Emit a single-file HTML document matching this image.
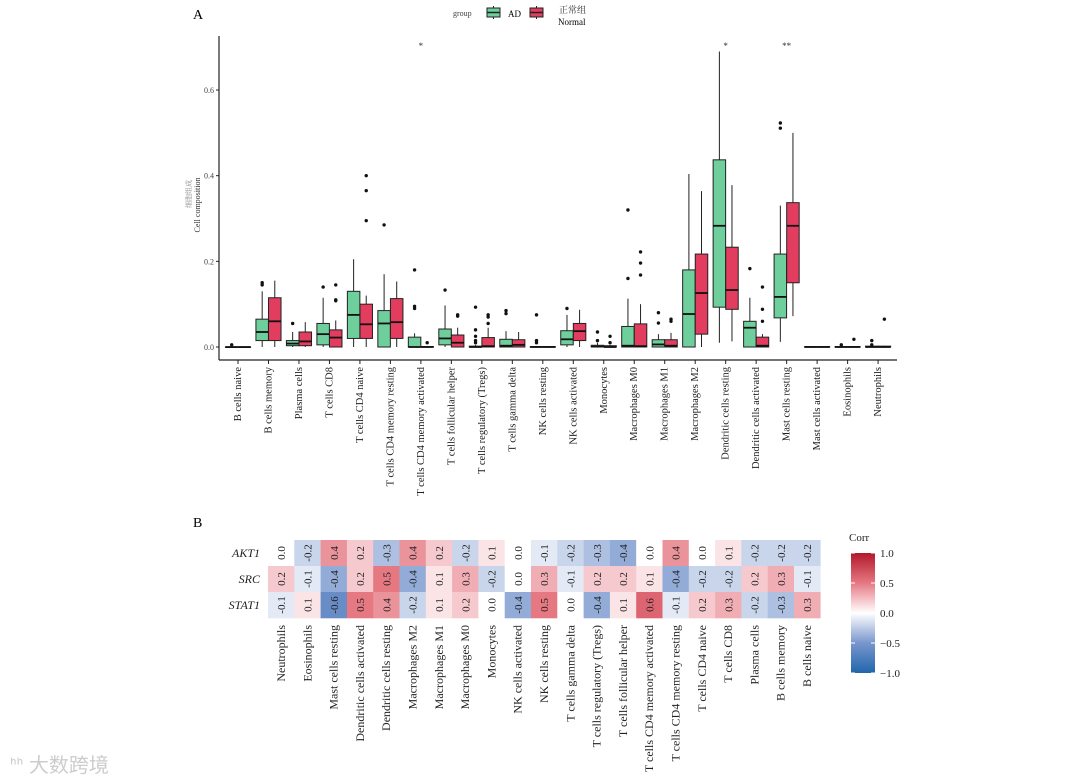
<!DOCTYPE html>
<html><head><meta charset="utf-8"><style>
html,body{margin:0;padding:0;background:#fff;width:1080px;height:782px;overflow:hidden}
svg{display:block;font-family:"Liberation Serif","Noto Serif CJK SC",serif}
</style></head><body>
<svg id="fig" width="1080" height="782" viewBox="0 0 1080 782">
<text x="193" y="19" font-size="14">A</text>
<text x="193" y="527" font-size="14">B</text>
<g>
<text x="453" y="16" font-size="8" fill="#444">group</text>
<g><line x1="493.5" y1="6" x2="493.5" y2="19" stroke="#222"/><rect x="487" y="8" width="13" height="9" fill="#6fcf9c" stroke="#222"/><line x1="487" y1="12.5" x2="500" y2="12.5" stroke="#222" stroke-width="1.5"/><text x="508" y="17" font-size="9">AD</text></g>
<g><line x1="536.5" y1="6" x2="536.5" y2="19" stroke="#222"/><rect x="530" y="8" width="13" height="9" fill="#e23d5f" stroke="#222"/><line x1="530" y1="12.5" x2="543" y2="12.5" stroke="#222" stroke-width="1.5"/><text x="559" y="13" font-size="9" fill="#333">正常组</text><text x="558" y="25" font-size="9">Normal</text></g>
</g>
<g id="box"></g>
<g id="heat"></g>
<text x="10" y="772" font-size="20" fill="#ccc" font-family="Liberation Sans, Noto Sans CJK SC, sans-serif">ᑋᑋ 大数跨境</text>
</svg>
<script>
const NS="http://www.w3.org/2000/svg";
function mk(p,t,a){const e=document.createElementNS(NS,t);for(const k in a)e.setAttribute(k,a[k]);p.appendChild(e);return e;}
const categories=["B cells naive","B cells memory","Plasma cells","T cells CD8","T cells CD4 naive","T cells CD4 memory resting","T cells CD4 memory activated","T cells follicular helper","T cells regulatory (Tregs)","T cells gamma delta","NK cells resting","NK cells activated","Monocytes","Macrophages M0","Macrophages M1","Macrophages M2","Dendritic cells resting","Dendritic cells activated","Mast cells resting","Mast cells activated","Eosinophils","Neutrophils"];
// [min,q1,median,q3,max]
const adStats=[[0,0,0,0,0],[0,0.015,0.035,0.065,0.13],[0,0.003,0.008,0.015,0.035],[0,0.005,0.03,0.055,0.115],[0,0.02,0.075,0.13,0.205],[0,0,0.055,0.085,0.17],[0,0,0,0.023,0.032],[0,0.005,0.02,0.042,0.097],[0,0,0,0.002,0.005],[0,0,0.003,0.018,0.037],[0,0,0,0.001,0.002],[0,0.005,0.018,0.038,0.075],[0,0,0.001,0.004,0.01],[0,0,0.003,0.048,0.113],[0,0,0.006,0.017,0.03],[0,0,0.077,0.18,0.404],[0.01,0.093,0.283,0.437,0.69],[0,0,0.045,0.06,0.115],[0.012,0.068,0.117,0.217,0.33],[0,0,0,0.001,0.001],[0,0,0,0.001,0.002],[0,0,0,0.002,0.003]];
const normalStats=[[0,0,0,0,0],[0,0.015,0.06,0.115,0.155],[0,0.003,0.013,0.035,0.058],[0,0,0.022,0.04,0.062],[0,0.02,0.053,0.1,0.12],[0,0.02,0.058,0.113,0.153],[0,0,0,0.001,0.002],[0,0,0.01,0.028,0.045],[0,0,0.002,0.022,0.045],[0,0,0.005,0.017,0.035],[0,0,0,0.001,0.001],[0,0.015,0.037,0.055,0.087],[0,0,0,0.003,0.005],[0,0,0.002,0.054,0.1],[0,0,0.003,0.017,0.033],[0,0.03,0.126,0.217,0.364],[0.013,0.088,0.133,0.233,0.378],[0,0,0.003,0.023,0.03],[0.072,0.15,0.283,0.337,0.5],[0,0,0,0.001,0.001],[0,0,0,0.001,0.002],[0,0,0,0.002,0.003]];
const adOutliers=[[0.005],[0.15,0.145],[0.055],[0.14],[],[0.285],[0.18,0.095,0.09],[0.133],[0.093,0.04,0.025,0.015,0.01],[0.085,0.078],[0.075,0.015,0.01],[0.09],[0.035,0.015],[0.32,0.16],[0.08,0.056],[],[],[0.183],[0.523,0.511],[],[0.005],[0.015,0.005]];
const normalOutliers=[[],[],[],[0.145,0.11,0.108],[0.4,0.365,0.295],[],[0.01],[0.075,0.072],[0.075,0.07,0.055],[],[],[],[0.025,0.01],[0.222,0.196,0.168],[0.065,0.06],[],[],[0.14,0.088,0.06],[],[],[0.018],[0.065]];
const sigLabels=["","","","","","","*","","","","","","","","","","*","","**","","",""];
const yTicks=[0,0.2,0.4,0.6];

const box=document.getElementById('box');
const y=v=>347-v*428.3;
const x=i=>238+i*30.48;
let e;
e=mk(box,'line',{x1:219,y1:36,x2:219,y2:360,stroke:'#222','stroke-width':1.2});

e=mk(box,'line',{x1:219,y1:360,x2:897,y2:360,stroke:'#222','stroke-width':1.2});

yTicks.forEach(t=>{
 mk(box,'line',{x1:216,y1:y(t),x2:219,y2:y(t),stroke:'#222'});
 e=mk(box,'text',{x:214,y:y(t)+3,'font-size':8,'text-anchor':'end',fill:'#444'});e.textContent=t.toFixed(1);
 
});
e=mk(box,'text',{transform:'translate(200,205) rotate(-90)','font-size':8,'text-anchor':'middle',fill:'#333'});e.textContent='Cell composition';

e=mk(box,'text',{transform:'translate(191,194) rotate(-90)','font-size':7,'text-anchor':'middle',fill:'#888'});e.textContent='细胞组成';

function drawBox(cx,s,outs,fill,name){
 const g=mk(box,'g',{});
 
 const w=12.5;
 mk(g,'line',{x1:cx,y1:y(s[4]),x2:cx,y2:y(s[0]),stroke:'#222','stroke-width':1});
 mk(g,'rect',{x:cx-w/2,y:y(s[3]),width:w,height:Math.max(0.5,y(s[1])-y(s[3])),fill:fill,stroke:'#222','stroke-width':1});
 mk(g,'line',{x1:cx-w/2,y1:y(s[2]),x2:cx+w/2,y2:y(s[2]),stroke:'#111','stroke-width':1.8});
 outs.forEach(o=>{mk(g,'circle',{cx:cx,cy:y(o),r:1.7,fill:'#111'});});
}
categories.forEach((c,i)=>{
 const cx=x(i);
 drawBox(cx-6.3,adStats[i],adOutliers[i],'#6fcf9c','box-ad-'+i);
 drawBox(cx+6.3,normalStats[i],normalOutliers[i],'#e23d5f','box-normal-'+i);
 mk(box,'line',{x1:cx,y1:360,x2:cx,y2:364,stroke:'#222'});
 e=mk(box,'text',{transform:`translate(${cx+3},367) rotate(-90)`,'font-size':10.5,'text-anchor':'end',fill:'#222'});e.textContent=c;
 
 if(sigLabels[i]){e=mk(box,'text',{x:cx,y:49,'font-size':9,'text-anchor':'middle',fill:'#333'});e.textContent=sigLabels[i];
 }
});

// heatmap
const hCols=["Neutrophils","Eosinophils","Mast cells resting","Dendritic cells activated","Dendritic cells resting","Macrophages M2","Macrophages M1","Macrophages M0","Monocytes","NK cells activated","NK cells resting","T cells gamma delta","T cells regulatory (Tregs)","T cells follicular helper","T cells CD4 memory activated","T cells CD4 memory resting","T cells CD4 naive","T cells CD8","Plasma cells","B cells memory","B cells naive"];
const genes=["AKT1","SRC","STAT1"];
const akt1=[0.0,-0.2,0.4,0.2,-0.3,0.4,0.2,-0.2,0.1,0.0,-0.1,-0.2,-0.3,-0.4,0.0,0.4,0.0,0.1,-0.2,-0.2,-0.2];
const src=[0.2,-0.1,-0.4,0.2,0.5,-0.4,0.1,0.3,-0.2,0.0,0.3,-0.1,0.2,0.2,0.1,-0.4,-0.2,-0.2,0.2,0.3,-0.1];
const stat1=[-0.1,0.1,-0.6,0.5,0.4,-0.2,0.1,0.2,0.0,-0.4,0.5,0.0,-0.4,0.1,0.6,-0.1,0.2,0.3,-0.2,-0.3,0.3];
const corrTicks=[1.0,0.5,0.0,-0.5,-1.0];
const rows=[akt1,src,stat1];
const heat=document.getElementById('heat');
const hx=i=>268+i*26.3, hy=r=>540+r*26;
function col(v){
 const t=Math.min(1,Math.abs(v));
 const end=v>=0?[178,24,43]:[33,102,172];
 const m=v>=0?[230,120,130]:[120,150,205];
 let c;
 if(t<0.5){const k=t/0.5;c=[255+(m[0]-255)*k,255+(m[1]-255)*k,255+(m[2]-255)*k];}
 else{const k=(t-0.5)/0.5;c=[m[0]+(end[0]-m[0])*k,m[1]+(end[1]-m[1])*k,m[2]+(end[2]-m[2])*k];}
 return `rgb(${c.map(Math.round).join(',')})`;
}
rows.forEach((vals,r)=>{
 e=mk(heat,'text',{x:260,y:hy(r)+17,'font-size':12,'font-style':'italic','text-anchor':'end',fill:'#222'});e.textContent=genes[r];
 
 vals.forEach((v,i)=>{
  e=mk(heat,'rect',{x:hx(i),y:hy(r),width:26.6,height:26.3,fill:col(v)});
  
  const cx=hx(i)+13.15,cy=hy(r)+13;
  e=mk(heat,'text',{transform:`translate(${cx+4},${cy}) rotate(-90)`,'font-size':11,'text-anchor':'middle',fill:'#222'});e.textContent=v.toFixed(1);
  
 });
});
hCols.forEach((c,i)=>{
 e=mk(heat,'text',{transform:`translate(${hx(i)+17},625) rotate(-90)`,'font-size':12,'text-anchor':'end',fill:'#222'});e.textContent=c;
 
});
const defs=mk(heat,'defs',{});
const lg=mk(defs,'linearGradient',{id:'cg',x1:0,y1:0,x2:0,y2:1});
[[0,'rgb(178,24,43)'],[0.25,'rgb(230,120,130)'],[0.5,'#fff'],[0.75,'rgb(120,150,205)'],[1,'rgb(33,102,172)']].forEach(s=>mk(lg,'stop',{offset:s[0],'stop-color':s[1]}));
e=mk(heat,'text',{x:849,y:541,'font-size':11,fill:'#222'});e.textContent='Corr';

e=mk(heat,'rect',{x:851,y:553,width:24,height:120,fill:'url(#cg)'});

corrTicks.forEach(t=>{
 const ty=553+(1-t)/2*120;
 mk(heat,'line',{x1:851,y1:ty,x2:855,y2:ty,stroke:'#fff'});mk(heat,'line',{x1:871,y1:ty,x2:875,y2:ty,stroke:'#fff'});
 e=mk(heat,'text',{x:880,y:ty+4,'font-size':11,fill:'#222'});e.textContent=t<0?'\u2212'+Math.abs(t).toFixed(1):t.toFixed(1);
 
});
</script>
</body></html>
